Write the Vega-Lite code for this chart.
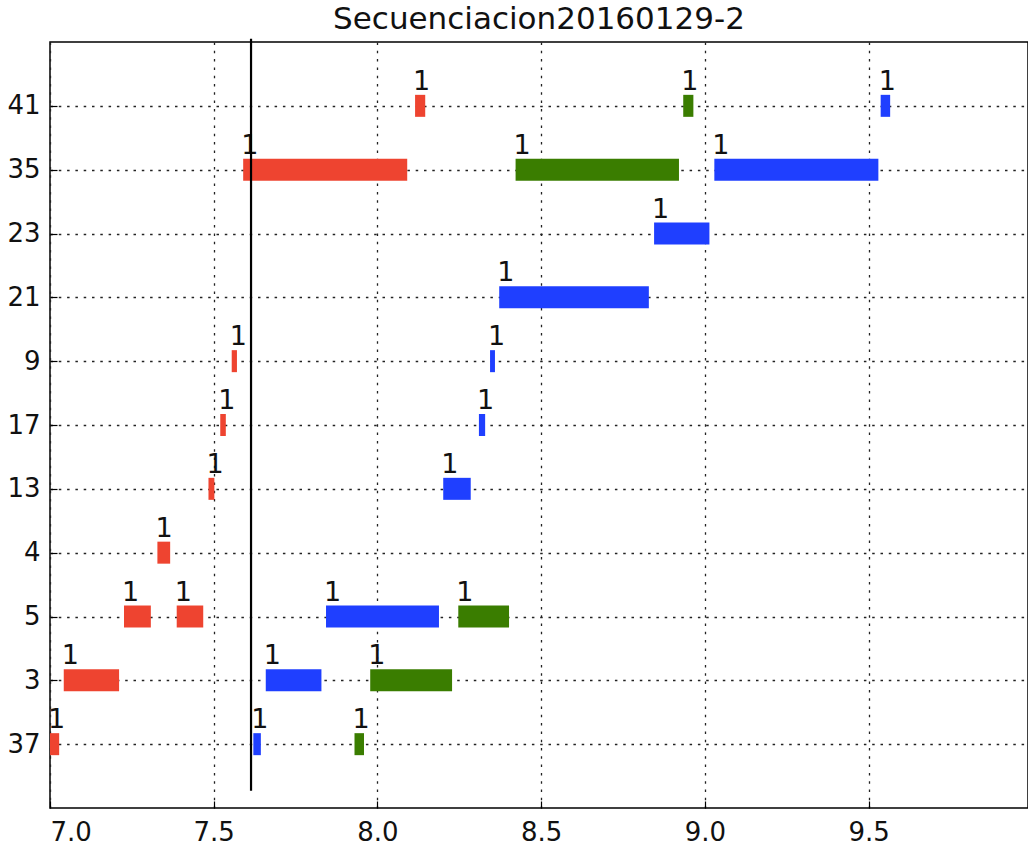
{
  "$schema": "https://vega.github.io/schema/vega-lite/v6.json",
  "autosize": {"type": "none"},
  "width": 978,
  "height": 766,
  "padding": {"left": 50, "top": 42, "right": 0, "bottom": 37},
  "background": "white",
  "title": {"text": "Secuenciacion20160129-2", "font": "DejaVu Sans", "fontSize": 31, "fontWeight": "normal", "color": "#111", "offset": 2, "anchor": "middle"},
  "config": {
    "view": {"stroke": "#000", "strokeWidth": 1.5},
    "axis": {"labelFont": "DejaVu Sans", "labelFontSize": 26, "labelColor": "#111", "domain": false, "ticks": true, "tickColor": "#000", "tickWidth": 1.2, "tickSize": -7, "grid": true, "gridColor": "#222", "gridWidth": 1.3, "gridDash": [2.5, 5.8], "gridOpacity": 1, "zindex": 1, "title": null}
  },
  "datasets": {
    "bars": [
      {"row": 0, "start": 7.0, "end": 7.028, "grp": "r", "n": 1},
      {"row": 0, "start": 7.621, "end": 7.644, "grp": "b", "n": 1},
      {"row": 0, "start": 7.930, "end": 7.959, "grp": "g", "n": 1},
      {"row": 1, "start": 7.042, "end": 7.211, "grp": "r", "n": 1},
      {"row": 1, "start": 7.659, "end": 7.829, "grp": "b", "n": 1},
      {"row": 1, "start": 7.978, "end": 8.228, "grp": "g", "n": 1},
      {"row": 2, "start": 7.226, "end": 7.308, "grp": "r", "n": 1},
      {"row": 2, "start": 7.387, "end": 7.468, "grp": "r", "n": 1},
      {"row": 2, "start": 7.843, "end": 8.188, "grp": "b", "n": 1},
      {"row": 2, "start": 8.247, "end": 8.402, "grp": "g", "n": 1},
      {"row": 3, "start": 7.328, "end": 7.367, "grp": "r", "n": 1},
      {"row": 4, "start": 7.484, "end": 7.502, "grp": "r", "n": 1},
      {"row": 4, "start": 8.201, "end": 8.285, "grp": "b", "n": 1},
      {"row": 5, "start": 7.520, "end": 7.537, "grp": "r", "n": 1},
      {"row": 5, "start": 8.310, "end": 8.329, "grp": "b", "n": 1},
      {"row": 6, "start": 7.555, "end": 7.571, "grp": "r", "n": 1},
      {"row": 6, "start": 8.344, "end": 8.359, "grp": "b", "n": 1},
      {"row": 7, "start": 8.372, "end": 8.829, "grp": "b", "n": 1},
      {"row": 8, "start": 8.845, "end": 9.014, "grp": "b", "n": 1},
      {"row": 9, "start": 7.590, "end": 8.091, "grp": "r", "n": 1},
      {"row": 9, "start": 8.422, "end": 8.921, "grp": "g", "n": 1},
      {"row": 9, "start": 9.029, "end": 9.530, "grp": "b", "n": 1},
      {"row": 10, "start": 8.115, "end": 8.146, "grp": "r", "n": 1},
      {"row": 10, "start": 8.934, "end": 8.965, "grp": "g", "n": 1},
      {"row": 10, "start": 9.537, "end": 9.566, "grp": "b", "n": 1}
    ],
    "marker": [{"x": 7.614, "y1": -0.73, "y2": 11.05}]
  },
  "layer": [
    {
      "data": {"name": "bars"},
      "mark": {"type": "bar", "size": 22},
      "encoding": {
        "x": {"field": "start", "type": "quantitative", "scale": {"domain": [7, 9.987], "nice": false, "zero": false, "padding": 0},
              "axis": {"values": [7, 7.5, 8, 8.5, 9, 9.5], "format": ".1f", "labelPadding": 18}},
        "x2": {"field": "end"},
        "y": {"field": "row", "type": "quantitative", "scale": {"domain": [-1, 11], "nice": false, "zero": false, "padding": 0},
              "axis": {"values": [0,1,2,3,4,5,6,7,8,9,10], "labelExpr": "['37','3','5','4','13','17','9','21','23','35','41'][datum.value]", "labelPadding": 17}},
        "color": {"field": "grp", "type": "nominal", "legend": null,
                  "scale": {"domain": ["r", "g", "b"], "range": ["#ee4430", "#3a7d00", "#1f3fff"]}}
      }
    },
    {
      "data": {"name": "bars"},
      "mark": {"type": "text", "align": "left", "baseline": "alphabetic", "dx": -2, "dy": -16, "font": "DejaVu Sans", "fontSize": 27, "color": "#111"},
      "encoding": {
        "x": {"field": "start", "type": "quantitative"},
        "y": {"field": "row", "type": "quantitative"},
        "text": {"field": "n", "type": "quantitative"}
      }
    },
    {
      "data": {"name": "marker"},
      "mark": {"type": "rule", "color": "#000", "strokeWidth": 2.2},
      "encoding": {
        "x": {"field": "x", "type": "quantitative"},
        "y": {"field": "y1", "type": "quantitative"},
        "y2": {"field": "y2"}
      }
    }
  ]
}
